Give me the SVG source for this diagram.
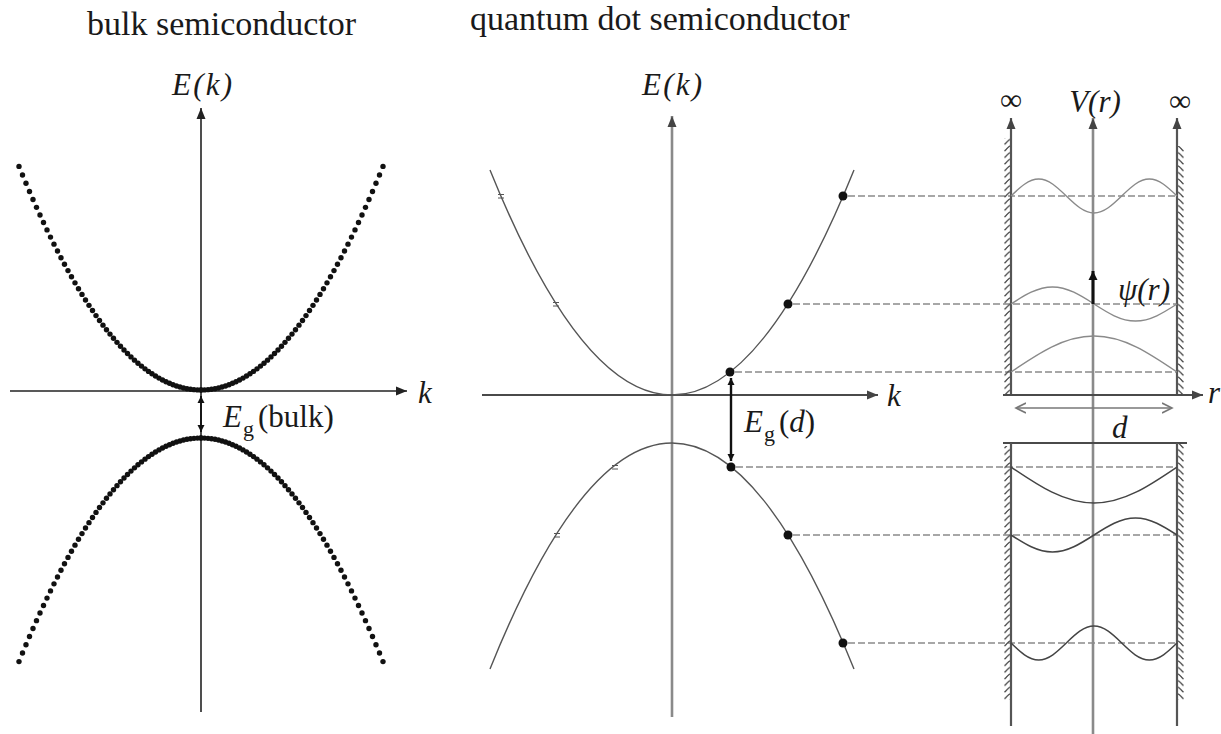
<svg xmlns="http://www.w3.org/2000/svg" width="1221" height="734" viewBox="0 0 1221 734">
<style>
text{font-family:"Liberation Serif","Times New Roman",serif;fill:#1a1a1a}
.it{font-style:italic}
.title{font-size:34px}
.lab{font-size:31px}
.sub{font-size:22px}
.ax{stroke:#222;stroke-width:1.6;fill:none}
.axg{stroke:#8a8a8a;stroke-width:2.6;fill:none}
.axd{stroke:#4a4a4a;stroke-width:2;fill:none}
.band{stroke:#555;stroke-width:1.4;fill:none}
.dash{stroke:#8a8a8a;stroke-width:1.3;stroke-dasharray:7 3;fill:none}
.wave{stroke:#8a8a8a;stroke-width:1.4;fill:none}
.waved{stroke:#444;stroke-width:1.5;fill:none}
.wall{stroke:#555;stroke-width:2.2;fill:none}
.tick{stroke:#555;stroke-width:1;fill:none}
.gap{stroke:#111;stroke-width:1.8;fill:none}
.gapd{stroke:#111;stroke-width:2.4;fill:none}
.qdot{fill:#111}
</style>
<defs>
<marker id="ak" markerUnits="userSpaceOnUse" markerWidth="12" markerHeight="10" refX="11" refY="5" orient="auto"><path d="M0,0.5 L11,5 L0,9.5 z" fill="#222"/></marker>
<marker id="ag" markerUnits="userSpaceOnUse" markerWidth="12" markerHeight="10" refX="11" refY="5" orient="auto"><path d="M0,0.5 L11,5 L0,9.5 z" fill="#444"/></marker>
<marker id="as" markerUnits="userSpaceOnUse" markerWidth="8" markerHeight="8" refX="7" refY="4" orient="auto-start-reverse"><path d="M0,0.5 L7,4 L0,7.5 z" fill="#111"/></marker>
<marker id="ap" markerUnits="userSpaceOnUse" markerWidth="10" markerHeight="10" refX="9" refY="5" orient="auto"><path d="M0,0.5 L9,5 L0,9.5 z" fill="#111"/></marker>
<marker id="ch" markerUnits="userSpaceOnUse" markerWidth="12" markerHeight="12" refX="10" refY="6" orient="auto-start-reverse"><path d="M0,1 L10,6 L0,11" fill="none" stroke="#777" stroke-width="1.6"/></marker>
<pattern id="hatchL" patternUnits="userSpaceOnUse" x="1003" y="0" width="8" height="6.6"><path d="M8,0.6 C5,0.8 4.5,3.5 1.5,5.8" fill="none" stroke="#444" stroke-width="1.3"/></pattern>
<pattern id="hatchR" patternUnits="userSpaceOnUse" x="1177" y="0" width="8" height="6.6"><path d="M0,0.6 C3,0.8 3.5,3.5 6.5,5.8" fill="none" stroke="#444" stroke-width="1.3"/></pattern>
<g id="q" class="qdot">
<circle cx="0" cy="0" r="2.7"/><circle cx="3.5" cy="-0.08" r="2.7"/><circle cx="7" cy="-0.33" r="2.7"/><circle cx="10.5" cy="-0.74" r="2.7"/><circle cx="14" cy="-1.32" r="2.7"/><circle cx="17.5" cy="-2.07" r="2.7"/><circle cx="21" cy="-2.98" r="2.7"/><circle cx="24.5" cy="-4.05" r="2.7"/><circle cx="28" cy="-5.29" r="2.7"/><circle cx="31.5" cy="-6.7" r="2.7"/><circle cx="35" cy="-8.27" r="2.7"/><circle cx="38.5" cy="-10.01" r="2.7"/><circle cx="42" cy="-11.91" r="2.7"/><circle cx="45.5" cy="-13.97" r="2.7"/><circle cx="49" cy="-16.21" r="2.7"/><circle cx="52.5" cy="-18.61" r="2.7"/><circle cx="56" cy="-21.17" r="2.7"/><circle cx="59.5" cy="-23.9" r="2.7"/><circle cx="63" cy="-26.79" r="2.7"/><circle cx="66.5" cy="-29.85" r="2.7"/><circle cx="70" cy="-33.08" r="2.7"/><circle cx="73.5" cy="-36.47" r="2.7"/><circle cx="77" cy="-40.02" r="2.7"/><circle cx="80.5" cy="-43.74" r="2.7"/><circle cx="84" cy="-47.63" r="2.7"/><circle cx="87.5" cy="-51.68" r="2.7"/><circle cx="91" cy="-55.9" r="2.7"/><circle cx="94.5" cy="-60.28" r="2.7"/><circle cx="98" cy="-64.83" r="2.7"/><circle cx="101.5" cy="-69.54" r="2.7"/><circle cx="105" cy="-74.42" r="2.7"/><circle cx="108.5" cy="-79.46" r="2.7"/><circle cx="112" cy="-84.67" r="2.7"/><circle cx="115.5" cy="-90.05" r="2.7"/><circle cx="119" cy="-95.59" r="2.7"/><circle cx="122.5" cy="-101.29" r="2.7"/><circle cx="126" cy="-107.16" r="2.7"/><circle cx="129.5" cy="-113.2" r="2.7"/><circle cx="133" cy="-119.4" r="2.7"/><circle cx="136.5" cy="-125.77" r="2.7"/><circle cx="140" cy="-132.3" r="2.7"/><circle cx="143.5" cy="-139" r="2.7"/><circle cx="147" cy="-145.86" r="2.7"/><circle cx="150.5" cy="-152.89" r="2.7"/><circle cx="154" cy="-160.08" r="2.7"/><circle cx="157.5" cy="-167.44" r="2.7"/><circle cx="161" cy="-174.97" r="2.7"/><circle cx="164.5" cy="-182.66" r="2.7"/><circle cx="168" cy="-190.51" r="2.7"/><circle cx="171.5" cy="-198.53" r="2.7"/><circle cx="175" cy="-206.72" r="2.7"/><circle cx="178.5" cy="-215.07" r="2.7"/><circle cx="182" cy="-223.59" r="2.7"/>
</g>
</defs>
<rect width="1221" height="734" fill="#fff"/>

<g id="titles">
<text class="title" x="87" y="35">bulk semiconductor</text>
<text class="title" x="470" y="30">quantum dot semiconductor</text>
</g>

<g id="bulk-panel">
<g id="bulk-axes">
<line class="ax" x1="201" y1="712" x2="201" y2="108" marker-end="url(#ak)"/>
<line class="ax" x1="10" y1="391" x2="407" y2="391" marker-end="url(#ak)"/>
<text class="lab it" x="202" y="95" text-anchor="middle" textLength="60" lengthAdjust="spacing">E(k)</text>
<text class="lab it" x="418" y="403">k</text>
</g>
<g id="bulk-conduction">
<use href="#q" transform="translate(201,390)"/>
<use href="#q" transform="translate(201,390) scale(-1,1)"/>
</g>
<g id="bulk-valence">
<use href="#q" transform="translate(201,438) scale(1,-1)"/>
<use href="#q" transform="translate(201,438) scale(-1,-1)"/>
</g>
<g id="bulk-gap">
<line class="gap" x1="201" y1="396" x2="201" y2="432" marker-start="url(#as)" marker-end="url(#as)"/>
<text class="lab" y="427"><tspan class="it" x="223">E</tspan><tspan class="sub" x="243" y="436">g</tspan><tspan x="258" y="427">(bulk)</tspan></text>
</g>
</g>

<g id="dot-panel">
<g id="dot-axes">
<line class="axg" x1="672" y1="717" x2="672" y2="116" marker-end="url(#ag)"/>
<line class="axd" x1="482" y1="395" x2="878" y2="395" marker-end="url(#ag)"/>
<text class="lab it" x="672" y="95" text-anchor="middle" textLength="60" lengthAdjust="spacing">E(k)</text>
<text class="lab it" x="887" y="406">k</text>
</g>
<g id="dot-conduction">
<path class="band" d="M490,170 Q672,620 854,170"/>
<path class="tick" d="M498,194.5 h6 M498,198 h6 M553,302.5 h6 M553,306 h6"/>
<circle cx="730" cy="372" r="4.5" fill="#111"/>
<circle cx="788" cy="304" r="4.5" fill="#111"/>
<circle cx="843" cy="196" r="4.5" fill="#111"/>
</g>
<g id="dot-valence">
<path class="band" d="M490,669 Q672,217 854,669"/>
<path class="tick" d="M612,465.5 h6 M612,469 h6 M554,533.5 h6 M554,537 h6"/>
<circle cx="731" cy="467" r="4.5" fill="#111"/>
<circle cx="788" cy="535" r="4.5" fill="#111"/>
<circle cx="843" cy="643" r="4.5" fill="#111"/>
</g>
<g id="dot-gap">
<line class="gapd" x1="731" y1="378" x2="731" y2="461" marker-start="url(#as)" marker-end="url(#as)"/>
<text class="lab" y="432"><tspan class="it" x="744">E</tspan><tspan class="sub" x="764" y="441">g</tspan><tspan x="779" y="432">(</tspan><tspan class="it">d</tspan><tspan>)</tspan></text>
</g>
</g>

<g id="connectors">
<line class="dash" x1="848" y1="196" x2="1177" y2="196"/>
<line class="dash" x1="793" y1="304" x2="1177" y2="304"/>
<line class="dash" x1="735" y1="372" x2="1177" y2="372"/>
<line class="dash" x1="736" y1="467" x2="1177" y2="467"/>
<line class="dash" x1="793" y1="535" x2="1177" y2="535"/>
<line class="dash" x1="848" y1="643" x2="1177" y2="643"/>
</g>

<g id="well-panel">
<g id="well-axis">
<line class="axg" x1="1093" y1="734" x2="1093" y2="118" marker-end="url(#ag)"/>
<text class="lab it" x="1095" y="112" text-anchor="middle">V(r)</text>
</g>
<g id="well-upper">
<rect x="1003" y="138" width="8" height="256" fill="url(#hatchL)"/>
<rect x="1177" y="146" width="8" height="248" fill="url(#hatchR)"/>
<line class="wall" x1="1011" y1="395" x2="1011" y2="118" marker-end="url(#ag)"/>
<line class="wall" x1="1177" y1="395" x2="1177" y2="118" marker-end="url(#ag)"/>
<line class="axd" x1="1003" y1="395" x2="1203" y2="395" marker-end="url(#ag)"/>
<text class="lab" x="1011" y="110" text-anchor="middle">∞</text>
<text class="lab" x="1180" y="111" text-anchor="middle">∞</text>
<text class="lab it" x="1208" y="403">r</text>
<path class="wave" d="M1011,372 C1038.1,353.6 1064,336 1094,336 S1149.9,353.6 1177,372"/>
<path class="wave" d="M1011,304 C1024.5,295.3 1037.5,287 1052.5,287 S1080.5,295.3 1094,304 S1120.5,321 1135.5,321 S1163.5,312.7 1177,304"/>
<path class="wave" d="M1011,196 C1020,187.3 1028.7,179 1038.7,179 S1057.3,187.3 1066.3,196 S1084,213 1094,213 S1112.7,204.7 1121.7,196 S1139.3,179 1149.3,179 S1168,187.3 1177,196"/>
<line x1="1093" y1="304" x2="1093" y2="271" stroke="#111" stroke-width="3" marker-end="url(#ap)"/>
<text class="lab it" x="1118" y="300">ψ(r)</text>
</g>
<g id="well-width">
<line x1="1016" y1="408" x2="1172" y2="408" stroke="#777" stroke-width="1.6" marker-start="url(#ch)" marker-end="url(#ch)"/>
<text class="lab it" x="1112" y="438">d</text>
</g>
<g id="well-lower">
<rect x="1003" y="446" width="8" height="254" fill="url(#hatchL)"/>
<rect x="1177" y="443" width="8" height="257" fill="url(#hatchR)"/>
<line class="axd" x1="1003" y1="443" x2="1187" y2="443"/>
<line class="wall" x1="1011" y1="443" x2="1011" y2="726"/>
<line class="wall" x1="1177" y1="443" x2="1177" y2="726"/>
<path class="waved" d="M1011,467 C1038.1,485.4 1064,503 1094,503 S1149.9,485.4 1177,467"/>
<path class="waved" d="M1011,535 C1024.5,543.7 1037.5,552 1052.5,552 S1080.5,543.7 1094,535 S1120.5,518 1135.5,518 S1163.5,526.3 1177,535"/>
<path class="waved" d="M1011,643 C1020,651.7 1028.7,660 1038.7,660 S1057.3,651.7 1066.3,643 S1084,626 1094,626 S1112.7,634.3 1121.7,643 S1139.3,660 1149.3,660 S1168,651.7 1177,643"/>
</g>
</g>
</svg>
